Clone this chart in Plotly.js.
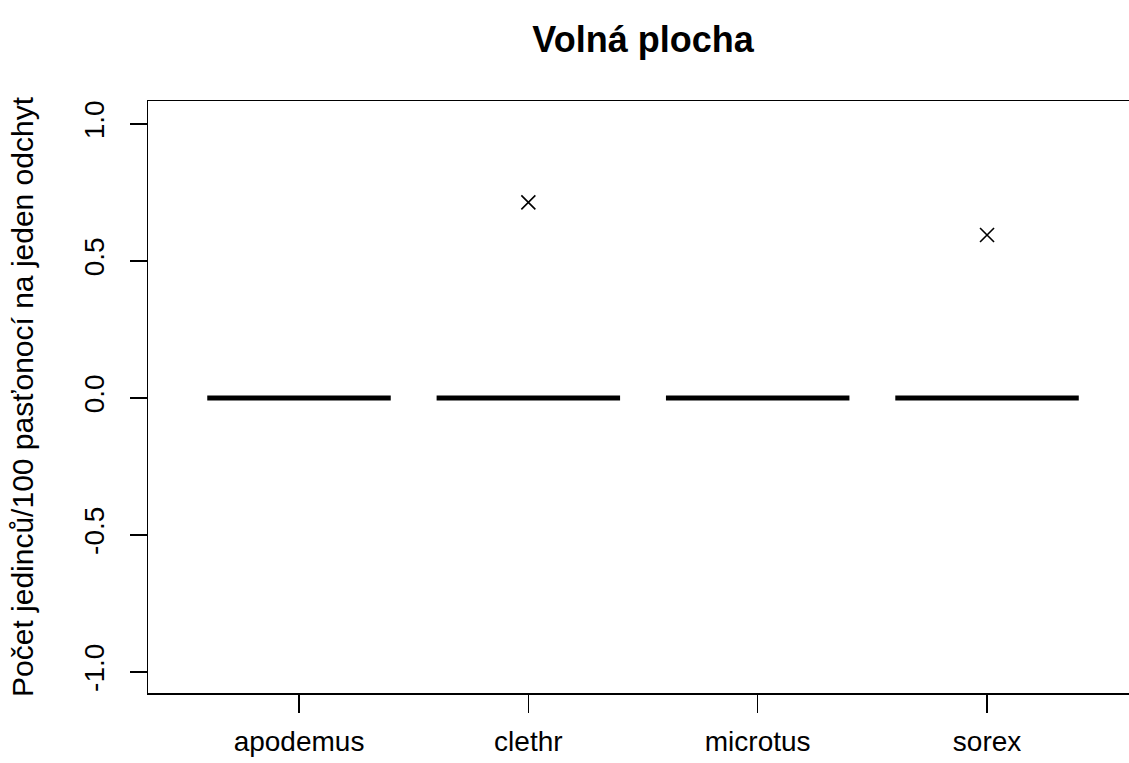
<!DOCTYPE html>
<html>
<head>
<meta charset="utf-8">
<script src="https://cdn.plot.ly/plotly-3.0.1.min.js"></script>
<style>html,body{margin:0;padding:0;background:#fff;overflow:hidden;}</style>
</head>
<body>
<div id="chart" style="width:1129px;height:763px;"></div>
<script>
// Data
const species = ["apodemus", "clethr", "microtus", "sorex"];
const apodemus = [0, 0, 0, 0, 0, 0, 0, 0];
const clethr   = [0, 0, 0, 0, 0, 0, 0, 0.714];
const microtus = [0, 0, 0, 0, 0, 0, 0, 0];
const sorex    = [0, 0, 0, 0, 0, 0, 0, 0.595];
const yTickVals = [-1.0, -0.5, 0.0, 0.5, 1.0];
const yTickText = ["-1.0", "-0.5", "0.0", "0.5", "1.0"];
const chartTitle = "Volná plocha";
const yTitle = "Počet jedinců/100 pasťonocí na jeden odchyt";

const series = [apodemus, clethr, microtus, sorex];
const xs = [], ys = [];
series.forEach((vals, i) => vals.forEach(v => { xs.push(species[i]); ys.push(v); }));

const FONT = "Liberation Sans, Arial, Helvetica, sans-serif";

const trace = {
  type: "box",
  x: xs,
  y: ys,
  width: 0.8,
  boxpoints: "outliers",
  jitter: 0,
  pointpos: 0,
  whiskerwidth: 0,
  fillcolor: "rgba(0,0,0,0)",
  line: { color: "#000", width: 5 },
  marker: { symbol: "x-thin-open", size: 14, color: "#000", line: { color: "#000", width: 1.6 }, outliercolor: "#000" },
  showlegend: false,
  hoverinfo: "skip"
};

const layout = {
  width: 1129,
  height: 763,
  margin: { l: 148, r: 0, t: 101, b: 70, pad: 0 },
  paper_bgcolor: "#fff",
  plot_bgcolor: "#fff",
  font: { family: FONT, color: "#000", size: 28 },
  title: {
    text: "<b>" + chartTitle + "</b>",
    font: { family: FONT, size: 36, color: "#000" },
    x: 643 / 1129, xref: "container", xanchor: "center",
    y: 1 - 39 / 763, yref: "container", yanchor: "middle"
  },
  xaxis: {
    type: "category",
    categoryorder: "array",
    categoryarray: species,
    range: [-0.6584, 3.619],
    showline: true, linecolor: "#000", linewidth: 1.5, mirror: true,
    showgrid: false, zeroline: false,
    ticks: "outside", ticklen: 18, tickwidth: 1.5, tickcolor: "#000",
    tickfont: { family: FONT, size: 28, color: "#000" },
    ticklabelstandoff: 5
  },
  yaxis: {
    range: [-1.0766, 1.0839],
    tickvals: yTickVals,
    ticktext: yTickText,
    tickangle: -90,
    showline: true, linecolor: "#000", linewidth: 1.5, mirror: false,
    showgrid: false, zeroline: false,
    ticks: "outside", ticklen: 17, tickwidth: 1.5, tickcolor: "#000",
    tickfont: { family: FONT, size: 28, color: "#000" },
    ticklabelstandoff: 14,
    title: { text: yTitle, font: { family: FONT, size: 30, color: "#000" }, standoff: 37 }
  }
};

Plotly.newPlot("chart", [trace], layout, { displayModeBar: false, staticPlot: true });
</script>
</body>
</html>
